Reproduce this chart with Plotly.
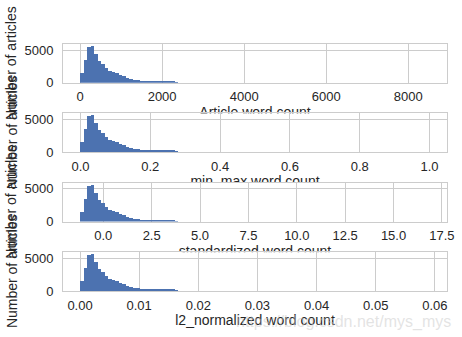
import plotly.graph_objects as go

# ---- data ----
counts = [1530, 3520, 5540, 5640, 4440, 3370, 2890, 2300, 1850, 1680,
          1430, 1230, 1110, 770, 610, 470, 410, 320, 300, 260,
          220, 170, 160, 150, 140, 135, 130, 120, 0, 0,
          0, 0, 0, 0, 0, 0, 0, 0, 0, 0,
          0, 0, 0, 0, 0, 0, 0, 0, 0, 0,
          0, 0, 0, 0, 0, 0, 0, 0, 0, 0,
          0, 0, 0, 0, 0, 0, 0, 0, 0, 0,
          0, 0, 0, 0, 0, 0, 0, 0, 0, 0,
          0, 0, 0, 0, 0, 0, 0, 0, 0, 0,
          0, 0, 0, 0, 0, 0, 0, 0, 0, 0]

titles = ["Article word count", "min_max word count",
          "standardized word count", "l2_normalized word count"]
x_mins = [10, 0.0, -1.18, 0.00007]
x_maxs = [8519, 1.0, 16.86, 0.0591]
tick_vals = [[0, 2000, 4000, 6000, 8000],
             [0.0, 0.2, 0.4, 0.6, 0.8, 1.0],
             [0.0, 2.5, 5.0, 7.5, 10.0, 12.5, 15.0, 17.5],
             [0.0, 0.01, 0.02, 0.03, 0.04, 0.05, 0.06]]
tick_text = [["0", "2000", "4000", "6000", "8000"],
             ["0.0", "0.2", "0.4", "0.6", "0.8", "1.0"],
             ["0.0", "2.5", "5.0", "7.5", "10.0", "12.5", "15.0", "17.5"],
             ["0.00", "0.01", "0.02", "0.03", "0.04", "0.05", "0.06"]]
y_ticks = [0, 5000]
y_title = "Number of articles"
watermark = "https://blog.csdn.net/mys_mys"

# ---- layout constants ----
W, H = 462, 337
L, R, T, B = 63, 15, 44, 3
plot_w = W - L - R
plot_h = H - T - B
sub_h = 38.8
step = 69.4
title_gap = 30.7
band = 9.5
bar_color = "#4C72B0"
grid = "#cccccc"
txt = "#262626"
font = "Liberation Sans, Arial, sans-serif"

nb = len(counts)
ymax = max(counts) * 1.05


def frac(px):
    return min(1.0, max(0.0, round((H - B - px) / plot_h, 6)))


fig = go.Figure()
# invisible background subplot: makes every later subplot own an opaque background,
# so each subplot hides the lower half of the x title of the subplot above it
fig.add_trace(go.Scatter(x=[None], y=[None], xaxis="x", yaxis="y",
                         showlegend=False, hoverinfo="skip"))
layout = dict(
    xaxis=dict(domain=[0, 1], visible=False, range=[0, 1], automargin=False),
    yaxis=dict(domain=[0, 1], visible=False, range=[0, 1], automargin=False),
)
annotations = []

for i in range(4):
    k = 2 * i + 2          # histogram subplot
    kt = 2 * i + 3         # its x-title band, drawn before the next histogram
    xa, ya = f"x{k}", f"y{k}"
    xt, yt = f"x{kt}", f"y{kt}"
    lo, hi = x_mins[i], x_maxs[i]
    w = (hi - lo) / nb
    centers = [lo + (j + 0.5) * w for j in range(nb)]
    span = hi - lo
    rng = [lo - 0.05 * span, hi + 0.05 * span]
    fig.add_trace(go.Bar(x=centers, y=counts, width=w, xaxis=xa, yaxis=ya,
                         marker=dict(color=bar_color, line=dict(width=0)),
                         showlegend=False))
    fig.add_trace(go.Scatter(x=[0.5], y=[0.5], xaxis=xt, yaxis=yt,
                             mode="text", text=[titles[i]], textposition="middle center",
                             textfont=dict(size=14, color=txt, family=font),
                             cliponaxis=False, showlegend=False, hoverinfo="skip"))
    top = T + i * step
    bottom = top + sub_h
    tc = bottom + title_gap
    layout[f"xaxis{k}"] = dict(domain=[0, 1], anchor=ya, range=rng, automargin=False,
                               tickvals=tick_vals[i], ticktext=tick_text[i],
                               showgrid=True, gridcolor=grid, gridwidth=1,
                               showline=True, mirror=True, linecolor=grid, linewidth=1,
                               zeroline=False, ticks="", ticklabelstandoff=2,
                               tickfont=dict(size=13, color=txt, family=font))
    layout[f"yaxis{k}"] = dict(domain=[frac(bottom), frac(top)], anchor=xa, range=[0, ymax],
                               automargin=False,
                               tickvals=y_ticks, showgrid=True, gridcolor=grid, gridwidth=1,
                               showline=True, mirror=True, linecolor=grid, linewidth=1,
                               zeroline=False, ticks="", ticklabelstandoff=6,
                               tickfont=dict(size=13, color=txt, family=font))
    layout[f"xaxis{kt}"] = dict(domain=[0, 1], anchor=yt, range=[0, 1], visible=False,
                                automargin=False)
    layout[f"yaxis{kt}"] = dict(domain=[frac(tc + band), frac(tc - band)], anchor=xt,
                                range=[0, 1], visible=False, automargin=False)
    annotations.append(dict(text=y_title, xref="paper", yref="paper",
                            x=(11.5 - L) / plot_w, y=frac((top + bottom) / 2),
                            xanchor="center", yanchor="middle", textangle=-90,
                            showarrow=False, font=dict(size=14, color=txt, family=font)))

annotations.append(dict(text=watermark, xref="paper", yref="paper",
                        x=(453 - L) / plot_w, y=frac(321.7),
                        xanchor="right", yanchor="middle", showarrow=False,
                        font=dict(size=16, color="rgba(200,200,200,0.5)", family=font)))

fig.update_layout(**layout)
fig.update_layout(width=W, height=H,
                  margin=dict(l=L, r=R, t=T, b=B, pad=0, autoexpand=False),
                  paper_bgcolor="white", plot_bgcolor="white", bargap=0,
                  showlegend=False, annotations=annotations,
                  font=dict(family=font, color=txt))
fig.write_html("out.html")
